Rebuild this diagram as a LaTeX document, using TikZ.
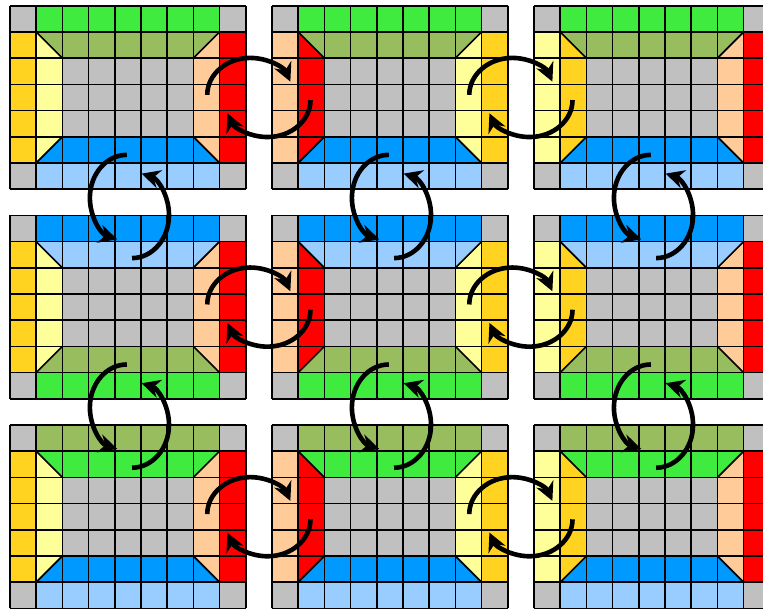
\documentclass[tikz,border=0pt]{standalone}
\usepackage{tikz}
\usetikzlibrary{arrows.meta}
\definecolor{stickergreen}{HTML}{3FEB3F}
\definecolor{stickerolive}{HTML}{97BD5F}
\definecolor{stickergold}{HTML}{FFD320}
\definecolor{stickerlemon}{HTML}{FFFF99}
\definecolor{stickerred}{HTML}{FF0000}
\definecolor{stickerpeach}{HTML}{FFCC99}
\definecolor{stickerblue}{HTML}{0099FF}
\definecolor{stickersky}{HTML}{99CCFF}
\definecolor{stickergray}{HTML}{C0C0C0}
\tikzset{
  cellgrid/.style={line width=0.9pt,black},
  swaparrow/.style={-{Stealth[length=10pt,width=10pt]},line width=2.5pt,black}
}

\begin{document}
\begin{tikzpicture}[x=5mm,y=5mm]
  \useasboundingbox (-0.38,0.22) rectangle (28.74,-23.10);
  \clip (-0.38,0.22) rectangle (28.74,-23.10);
  % nine faces, top/bottom state by block row, left/right state by block column
  \foreach \vr/\tout/\tin/\bin/\bout in {0/stickergreen/stickerolive/stickerblue/stickersky,
      1/stickerblue/stickersky/stickerolive/stickergreen,
      2/stickerolive/stickergreen/stickerblue/stickersky} {
    \foreach \hc/\lout/\lin/\rin/\rout in {0/stickergold/stickerlemon/stickerpeach/stickerred,
        1/stickerpeach/stickerred/stickerlemon/stickergold,
        2/stickerlemon/stickergold/stickerpeach/stickerred} {
      \begin{scope}[shift={(10*\hc,-8*\vr)}]
        \fill[stickergray] (0,0) rectangle (9,-7);
        \fill[\tout] (1,0) rectangle (8,-1);
        \fill[\bout] (1,-6) rectangle (8,-7);
        \fill[\lout] (0,-1) rectangle (1,-6);
        \fill[\rout] (8,-1) rectangle (9,-6);
        \fill[\tin] (1,-1) -- (8,-1) -- (7,-2) -- (2,-2) -- cycle;
        \fill[\bin] (1,-6) -- (8,-6) -- (7,-5) -- (2,-5) -- cycle;
        \fill[\lin] (1,-1) -- (2,-2) -- (2,-5) -- (1,-6) -- cycle;
        \fill[\rin] (8,-1) -- (7,-2) -- (7,-5) -- (8,-6) -- cycle;
        \draw[cellgrid,step=5mm] (0,0) grid (9,-7);
        \draw[cellgrid] (1,-1) -- (2,-2) (8,-1) -- (7,-2) (1,-6) -- (2,-5) (8,-6) -- (7,-5);
      \end{scope}
    }
  }
  % swaps between neighbouring faces
  \foreach \vr in {0,1,2} \foreach \hc in {0,1} {
    \begin{scope}[shift={(10*\hc+9.5,-8*\vr-3.5)}]
      \draw[swaparrow] (-1.97,0.1) arc[start angle=180,end angle=21,x radius=1.64,y radius=1.41];
      \draw[swaparrow] (1.97,-0.1) arc[start angle=0,end angle=-159,x radius=1.64,y radius=1.41];
    \end{scope}
  }
  \foreach \vr in {0,1} \foreach \hc in {0,1,2} {
    \begin{scope}[shift={(10*\hc+4.56,-8*\vr-7.66)}]
      \draw[swaparrow] (-0.1,1.97) arc[start angle=90,end angle=255,x radius=1.41,y radius=1.64];
      \draw[swaparrow] (0.1,-1.97) arc[start angle=-90,end angle=75,x radius=1.41,y radius=1.64];
    \end{scope}
  }
\end{tikzpicture}
\end{document}
